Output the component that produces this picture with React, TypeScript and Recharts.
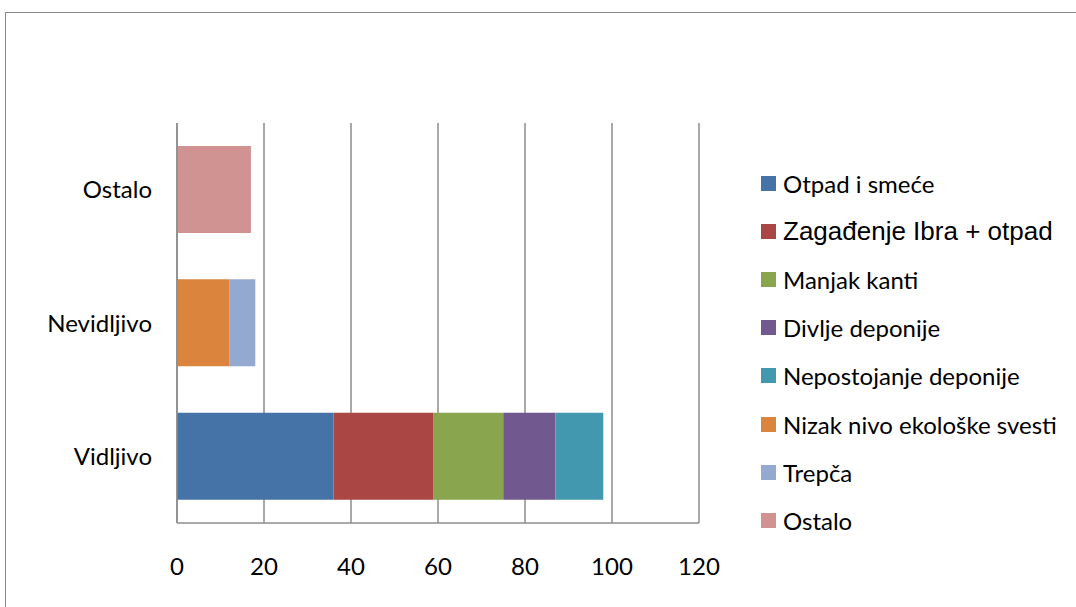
import { BarChart, Bar, XAxis, YAxis, CartesianGrid } from 'recharts';

const categories = ['Ostalo', 'Nevidljivo', 'Vidljivo'];

const seriesNames = [
  'Otpad i smeće',
  'Zagađenje Ibra + otpad',
  'Manjak kanti',
  'Divlje deponije',
  'Nepostojanje deponije',
  'Nizak nivo ekološke svesti',
  'Trepča',
  'Ostalo',
];

// values per series, in the order of categories (Ostalo, Nevidljivo, Vidljivo)
const otpadSmece = [0, 0, 36];
const zagadjenjeIbra = [0, 0, 23];
const manjakKanti = [0, 0, 16];
const divljeDeponije = [0, 0, 12];
const nepostojanjeDeponije = [0, 0, 11];
const nizakNivo = [0, 12, 0];
const trepca = [0, 6, 0];
const ostalo = [17, 0, 0];

const xTicks = [0, 20, 40, 60, 80, 100, 120];

const colors = ['#4572A7', '#AA4643', '#89A54E', '#71588F', '#4198AF', '#DB843D', '#93A9CF', '#D19392'];

const seriesValues = [otpadSmece, zagadjenjeIbra, manjakKanti, divljeDeponije, nepostojanjeDeponije, nizakNivo, trepca, ostalo];

const data = categories.map((name, i) => {
  const row: Record<string, string | number> = { name };
  seriesNames.forEach((s, k) => {
    row['s' + k] = seriesValues[k][i];
  });
  return row;
});

const FONT = 'Lato, "Open Sans", sans-serif';

function LegendBox() {
  return (
    <div style={{ position: 'absolute', left: 761, top: 159, fontFamily: FONT, color: '#000' }}>
      {seriesNames.map((s, k) => (
        <div key={s} style={{ display: 'flex', alignItems: 'center', height: 48.2, whiteSpace: 'nowrap' }}>
          <span style={{ display: 'inline-block', width: 15, height: 15, background: colors[k], marginRight: 7, flexShrink: 0 }} />
          <span
            style={
              k === 1
                ? { fontFamily: '"Liberation Sans", Arial, sans-serif', fontSize: 26 }
                : { fontSize: 24 }
            }
          >
            {s}
          </span>
        </div>
      ))}
    </div>
  );
}

export default function App() {
  return (
    <div style={{ position: 'absolute', left: 0, top: 0, width: 1076, height: 607, overflow: 'hidden', background: '#fff' }}>
      <div
        style={{
          position: 'absolute', left: 5, top: 12, width: 1200, height: 800,
          borderLeft: '1px solid #898989', borderTop: '1px solid #898989',
        }}
      />
      <div style={{ position: 'absolute', left: 0, top: 0 }}>
        <BarChart
          width={1076}
          height={607}
          data={data}
          layout="vertical"
          margin={{ top: 123, right: 377, bottom: 0, left: 0 }}
        >
          <CartesianGrid horizontal={false} stroke="#8c8c8c" strokeWidth={1.5} />
          <XAxis
            type="number"
            domain={[0, 120]}
            ticks={xTicks}
            height={84}
            tickLine={false}
            tickSize={0}
            tickMargin={35}
            axisLine={{ stroke: '#8c8c8c', strokeWidth: 1.5 }}
            tick={{ fill: '#000', fontSize: 24, fontFamily: FONT }}
          />
          <YAxis
            type="category"
            dataKey="name"
            width={177}
            tickLine={false}
            tickSize={0}
            tickMargin={25}
            axisLine={{ stroke: '#8c8c8c', strokeWidth: 1.5 }}
            tick={{ fill: '#000', fontSize: 24, fontFamily: FONT }}
          />
          {seriesNames.map((s, k) => (
            <Bar
              key={s}
              dataKey={'s' + k}
              name={s}
              stackId="a"
              fill={colors[k]}
              barSize={87}
              isAnimationActive={false}
            />
          ))}
        </BarChart>
      </div>
      <LegendBox />
    </div>
  );
}
